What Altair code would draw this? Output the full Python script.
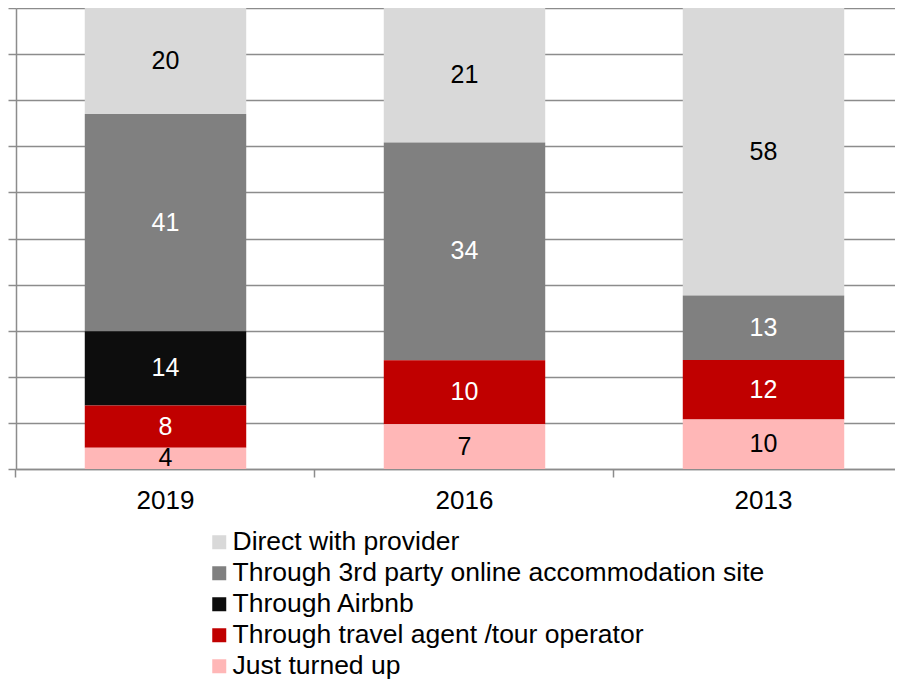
import altair as alt
import pandas as pd

years = ["2019", "2016", "2013"]
categories = [
    "Direct with provider",
    "Through 3rd party online accommodation site",
    "Through Airbnb",
    "Through travel agent /tour operator",
    "Just turned up",
]
colors = ["#d9d9d9", "#808080", "#0d0d0d", "#c00000", "#ffb7b7"]
label_colors = ["#000000", "#ffffff", "#ffffff", "#ffffff", "#000000"]

direct = [20, 21, 58]
third_party = [41, 34, 13]
airbnb = [14, None, None]
travel_agent = [8, 10, 12]
turned_up = [4, 7, 10]

series = [direct, third_party, airbnb, travel_agent, turned_up]
rows = []
for ci, (cat, vals) in enumerate(zip(categories, series)):
    for y, v in zip(years, vals):
        if v is not None:
            rows.append({"year": y, "cat": cat, "value": v, "order": len(categories) - ci})
df = pd.DataFrame(rows)

FONT = "Liberation Sans"
GRID = "#8c8c8c"

base = alt.Chart(df).transform_stack(
    stack="value", groupby=["year"], sort=[alt.SortField("order", order="ascending")],
    as_=["y0", "y1"], offset="normalize"
).transform_calculate(mid="(datum.y0 + datum.y1) / 2")

xscale = alt.Scale(paddingInner=0.46, paddingOuter=0.23, range=[0, 897])

bars = base.mark_bar().encode(
    x=alt.X("year:N", sort=years, title=None, scale=xscale,
            axis=alt.Axis(orient="bottom", labels=False, tickSize=8, tickColor=GRID,
                          tickWidth=1.5, domainColor=GRID, domainWidth=1.5,
                          bandPosition=-0.426)),
    y=alt.Y("y0:Q", scale=alt.Scale(domain=[0, 1]), title=None,
            axis=alt.Axis(labels=False, tickSize=8, tickColor=GRID, tickWidth=1.5,
                          domainColor=GRID, domainWidth=1.5, values=[i / 10 for i in range(11)],
                          grid=True, gridColor=GRID, gridWidth=1.5)),
    y2="y1:Q",
    color=alt.Color("cat:N", scale=alt.Scale(domain=categories, range=colors),
                    legend=alt.Legend(title=None, orient="none", legendX=190, legendY=521,
                                      padding=0, symbolType="square", symbolSize=196,
                                      symbolStrokeWidth=0, labelFontSize=26.5, labelFont=FONT,
                                      labelColor="#000000", labelLimit=0, rowPadding=4,
                                      labelOffset=0, symbolOffset=0)),
)

labels = base.mark_text(fontSize=25, font=FONT).encode(
    x=alt.X("year:N", sort=years, title=None,
            axis=alt.Axis(orient="bottom", labelAngle=0, labelFontSize=26, labelColor="#000000",
                          labelFont=FONT, ticks=False, domain=False, labelPadding=18)),
    y=alt.Y("mid:Q"),
    text=alt.Text("value:Q"),
    color=alt.Color("cat:N", scale=alt.Scale(domain=categories, range=label_colors), legend=None),
)

chart = alt.layer(bars, labels).resolve_scale(color="independent").resolve_axis(
    x="independent"
).properties(
    width=879, height=461,
    autosize=alt.AutoSizeParams(type="none"),
    padding={"left": 8, "top": 0, "right": 0, "bottom": 215},
).configure_view(stroke=None)

chart.save("out.html", embed_options={"renderer": "svg", "actions": False})
